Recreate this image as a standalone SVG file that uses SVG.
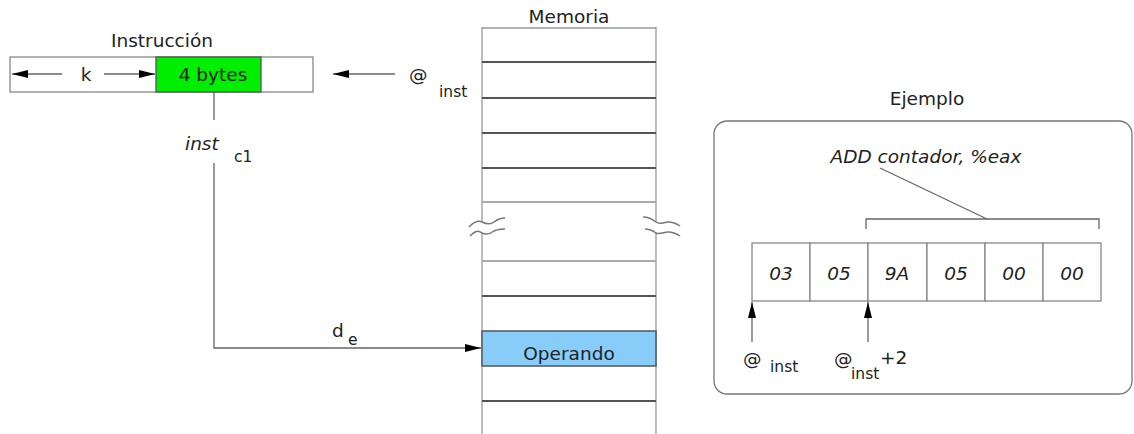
<svg xmlns="http://www.w3.org/2000/svg" width="1134" height="434" viewBox="0 0 1134 434">
<style>
text{font-family:"DejaVu Sans",sans-serif;font-size:18.5px;fill:#222}
.it{font-style:italic}
.sub{font-size:15.5px}
.box{fill:#fff;stroke:#888;stroke-width:1.3}
.ln{fill:none;stroke:#666;stroke-width:1.3}
.mem{stroke:#555;stroke-width:2}
.memL{stroke:#aaa;stroke-width:2}
.sq{fill:none;stroke:#777;stroke-width:1.5}
</style>
<defs>
<marker id="ah" viewBox="0 0 16 8" refX="16" refY="4" markerWidth="16" markerHeight="8" markerUnits="userSpaceOnUse" orient="auto">
<path d="M0,0 L16,4 L0,8 Z" fill="#000"/>
</marker>
</defs>

<g id="instruccion">
<text x="162" y="47" text-anchor="middle">Instrucción</text>
<rect class="box" x="10" y="57" width="303" height="35"/>
<rect x="156" y="57" width="105" height="35" fill="#00ee00" stroke="#555" stroke-width="1.3"/>
<text x="213" y="81" text-anchor="middle">4 bytes</text>
<text x="86" y="81" text-anchor="middle">k</text>
</g>

<g id="memoria">
<text x="569" y="23" text-anchor="middle">Memoria</text>
<line x1="482" y1="27" x2="482" y2="222" stroke="#999" stroke-width="1.3"/>
<line x1="482" y1="233" x2="482" y2="434" stroke="#999" stroke-width="1.3"/>
<line x1="656" y1="27" x2="656" y2="222" stroke="#999" stroke-width="1.3"/>
<line x1="656" y1="233" x2="656" y2="434" stroke="#999" stroke-width="1.3"/>
<line x1="482" y1="28" x2="656" y2="28" stroke="#999" stroke-width="1.3"/>
<line class="mem" x1="482" y1="62" x2="656" y2="62"/>
<line class="mem" x1="482" y1="98" x2="656" y2="98"/>
<line class="mem" x1="482" y1="133" x2="656" y2="133"/>
<line class="mem" x1="482" y1="168" x2="656" y2="168"/>
<line class="memL" x1="482" y1="202" x2="656" y2="202"/>
<line class="memL" x1="482" y1="261" x2="656" y2="261"/>
<line class="mem" x1="482" y1="296" x2="656" y2="296"/>
<rect x="482" y="331" width="174" height="35" fill="#88ccfa" stroke="#555" stroke-width="1.5"/>
<text x="569" y="360" text-anchor="middle">Operando</text>
<line class="mem" x1="482" y1="401" x2="656" y2="401"/>
<path class="sq" d="M469,227 C474,222 478,220 482,222 C486,224 490,225 494,222 C498,219 502,218 505,218"/>
<path class="sq" d="M470,236 C475,231 478,230 482,233 C486,235 490,234 494,231 C498,229 502,229 505,229"/>
<path class="sq" d="M643,217 C647,217 651,218 656,222 C660,225 664,222 668,222 C673,222 677,224 680,226"/>
<path class="sq" d="M645,229 C649,229 652,230 656,233 C660,235 664,232 668,232 C673,232 677,234 680,236"/>
</g>

<g id="ejemplo">
<text x="927" y="105" text-anchor="middle">Ejemplo</text>
<rect x="714" y="121" width="418" height="273" rx="13" fill="none" stroke="#777" stroke-width="1.3"/>
<text class="it" x="926" y="163" text-anchor="middle">ADD contador, %eax</text>
<rect class="box" x="752" y="243" width="58" height="58"/>
<rect class="box" x="810" y="243" width="58" height="58"/>
<rect class="box" x="868" y="243" width="59" height="58"/>
<rect class="box" x="927" y="243" width="58" height="58"/>
<rect class="box" x="985" y="243" width="58" height="58"/>
<rect class="box" x="1043" y="243" width="58" height="58"/>
<text class="it" x="781" y="280" text-anchor="middle">03</text>
<text class="it" x="839" y="280" text-anchor="middle">05</text>
<text class="it" x="897" y="280" text-anchor="middle">9A</text>
<text class="it" x="956" y="280" text-anchor="middle">05</text>
<text class="it" x="1014" y="280" text-anchor="middle">00</text>
<text class="it" x="1072" y="280" text-anchor="middle">00</text>
<text x="743" y="365">@</text>
<text class="sub" x="770" y="372">inst</text>
<text x="834" y="365">@</text>
<text class="sub" x="851" y="379">inst</text>
<text x="880" y="364">+2</text>
</g>

<g id="labels">
<text x="409" y="81">@</text>
<text class="sub" x="439" y="97">inst</text>
<text class="it" x="185" y="150">inst</text>
<text class="sub" x="234" y="162">c1</text>
<text x="332" y="337">d</text>
<text class="sub" x="348" y="345">e</text>
</g>

<g id="connectors">
<line class="ln" x1="62" y1="74" x2="12" y2="74" marker-end="url(#ah)"/>
<line class="ln" x1="104" y1="74" x2="155" y2="74" marker-end="url(#ah)"/>
<line class="ln" x1="395" y1="74" x2="333" y2="74" marker-end="url(#ah)"/>
<line class="ln" x1="214" y1="92" x2="214" y2="120"/>
<polyline class="ln" points="214,163 214,348 481,348" marker-end="url(#ah)"/>
<line class="ln" x1="880" y1="168" x2="987" y2="219"/>
<polyline class="ln" points="866,229 866,219 1099,219 1099,229"/>
<line class="ln" x1="752" y1="342" x2="752" y2="302" marker-end="url(#ah)"/>
<line class="ln" x1="868" y1="342" x2="868" y2="302" marker-end="url(#ah)"/>
</g>
</svg>
